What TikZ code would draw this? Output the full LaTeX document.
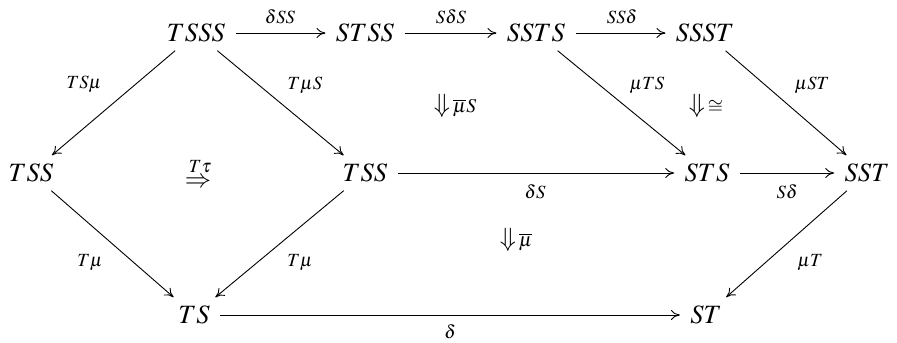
\documentclass[tikz,border=0pt]{standalone}
\usepackage{mathptmx}
\usetikzlibrary{arrows.meta}
\begin{document}
\begin{tikzpicture}[x=0.5pt,y=-0.5pt,
  obj/.style={font=\fontsize{13.2}{15}\selectfont, inner sep=2.5pt},
  lab/.style={font=\fontsize{9.3}{11}\selectfont, inner sep=1pt},
  ar/.style={-{To[length=4.5pt,width=5pt]}, line width=0.45pt, shorten >=2.5pt, shorten <=2.5pt}]
\useasboundingbox (0,0) rectangle (897,342);
\node[obj] (a) at (196,33) {$TSSS$};
\node[obj] (b) at (365,33) {$STSS$};
\node[obj] (c) at (536,33) {$SSTS$};
\node[obj] (d) at (705,33) {$SSST$};
\node[obj] (e) at (31,173) {$TSS$};
\node[obj] (f) at (365,173) {$TSS$};
\node[obj] (g) at (707,173) {$STS$};
\node[obj] (h) at (867,173) {$SST$};
\node[obj] (i) at (194,315) {$TS$};
\node[obj] (j) at (706,315) {$ST$};
\draw[ar] (a) -- (b) node[lab] at (280,17) {$\delta SS$};
\draw[ar] (b) -- (c) node[lab] at (451,17) {$S\delta S$};
\draw[ar] (c) -- (d) node[lab] at (622,17) {$SS\delta$};
\draw[ar] (a) -- (e) node[lab] at (84,84) {$TS\mu$};
\draw[ar] (a) -- (f) node[lab] at (305,85) {$T\mu S$};
\draw[ar] (c) -- (g) node[lab] at (647,85) {$\mu TS$};
\draw[ar] (d) -- (h) node[lab] at (812,85) {$\mu ST$};
\draw[ar] (f) -- (g) node[lab] at (535,192) {$\delta S$};
\draw[ar] (g) -- (h) node[lab] at (787,192) {$S\delta$};
\draw[ar] (e) -- (i) node[lab] at (90,263) {$T\mu$};
\draw[ar] (f) -- (i) node[lab] at (300,263) {$T\mu$};
\draw[ar] (h) -- (j) node[lab] at (810,263) {$\mu T$};
\draw[ar] (i) -- (j) node[lab] at (450,332) {$\delta$};
\node[obj, inner sep=0pt] (cellA) at (455,106) {$\Downarrow\,\scriptstyle\overline{\mu}S$};
\node[obj, inner sep=0pt] (cellB) at (706,106) {$\Downarrow\,\scriptstyle\cong$};
\node[obj, inner sep=0pt] (cellC) at (516,240) {$\Downarrow\,\scriptstyle\overline{\mu}$};
\node[obj, inner sep=0pt] (cellD) at (198,183) {$\Rightarrow$};
\node[lab] (cellDl) at (200,167) {$T\tau$};
\end{tikzpicture}
\end{document}
